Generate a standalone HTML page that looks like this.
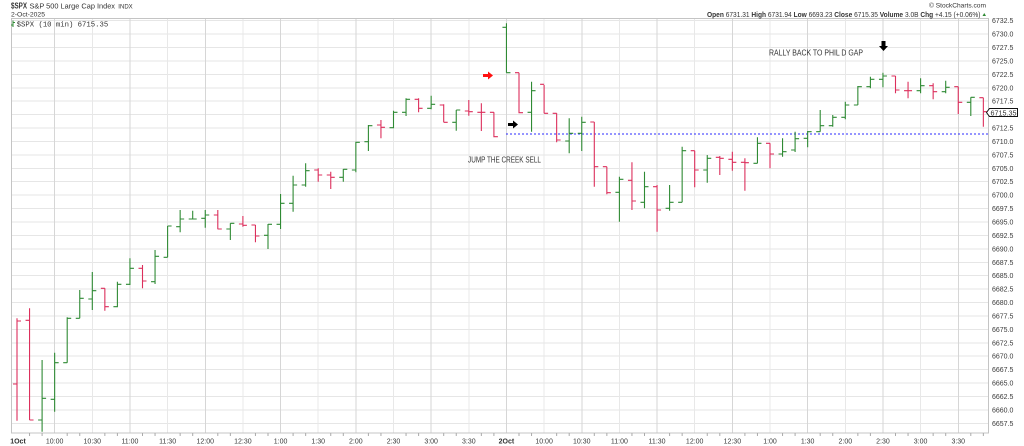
<!DOCTYPE html>
<html>
<head>
<meta charset="utf-8">
<style>
html,body{margin:0;padding:0;background:#fff;}
body{width:1024px;height:446px;overflow:hidden;}
svg{display:block;}
text{font-family:"Liberation Sans",Arial,sans-serif;fill:#333;}
.ax{font-size:7px;fill:#3a3a3a;}
.mono{font-family:"Liberation Mono",monospace;}
</style>
</head>
<body>
<svg width="1024" height="446" viewBox="0 0 1024 446" xmlns="http://www.w3.org/2000/svg">
<rect x="0" y="0" width="1024" height="446" fill="#fff"/>

<!-- horizontal grid -->
<g stroke="#e6e6e6" stroke-width="1" shape-rendering="crispEdges">
<line x1="11" x2="989" y1="20.7" y2="20.7"/>
<line x1="11" x2="989" y1="34.12" y2="34.12"/>
<line x1="11" x2="989" y1="47.54" y2="47.54"/>
<line x1="11" x2="989" y1="60.96" y2="60.96"/>
<line x1="11" x2="989" y1="74.38" y2="74.38"/>
<line x1="11" x2="989" y1="87.8" y2="87.8"/>
<line x1="11" x2="989" y1="101.22" y2="101.22"/>
<line x1="11" x2="989" y1="114.64" y2="114.64"/>
<line x1="11" x2="989" y1="128.06" y2="128.06"/>
<line x1="11" x2="989" y1="141.48" y2="141.48"/>
<line x1="11" x2="989" y1="154.9" y2="154.9"/>
<line x1="11" x2="989" y1="168.32" y2="168.32"/>
<line x1="11" x2="989" y1="181.74" y2="181.74"/>
<line x1="11" x2="989" y1="195.16" y2="195.16"/>
<line x1="11" x2="989" y1="208.58" y2="208.58"/>
<line x1="11" x2="989" y1="222" y2="222"/>
<line x1="11" x2="989" y1="235.42" y2="235.42"/>
<line x1="11" x2="989" y1="248.84" y2="248.84"/>
<line x1="11" x2="989" y1="262.26" y2="262.26"/>
<line x1="11" x2="989" y1="275.68" y2="275.68"/>
<line x1="11" x2="989" y1="289.1" y2="289.1"/>
<line x1="11" x2="989" y1="302.52" y2="302.52"/>
<line x1="11" x2="989" y1="315.94" y2="315.94"/>
<line x1="11" x2="989" y1="329.36" y2="329.36"/>
<line x1="11" x2="989" y1="342.78" y2="342.78"/>
<line x1="11" x2="989" y1="356.2" y2="356.2"/>
<line x1="11" x2="989" y1="369.62" y2="369.62"/>
<line x1="11" x2="989" y1="383.04" y2="383.04"/>
<line x1="11" x2="989" y1="396.46" y2="396.46"/>
<line x1="11" x2="989" y1="409.88" y2="409.88"/>
<line x1="11" x2="989" y1="423.3" y2="423.3"/>
</g>

<!-- vertical grid: half-hour (light) -->
<g stroke="#e8e8e8" stroke-width="1" shape-rendering="crispEdges">
<line x1="92.3" x2="92.3" y1="18" y2="433"/>
<line x1="167.6" x2="167.6" y1="18" y2="433"/>
<line x1="242.9" x2="242.9" y1="18" y2="433"/>
<line x1="318.2" x2="318.2" y1="18" y2="433"/>
<line x1="393.5" x2="393.5" y1="18" y2="433"/>
<line x1="468.8" x2="468.8" y1="18" y2="433"/>
<line x1="544.1" x2="544.1" y1="18" y2="433"/>
<line x1="619.4" x2="619.4" y1="18" y2="433"/>
<line x1="694.7" x2="694.7" y1="18" y2="433"/>
<line x1="770" x2="770" y1="18" y2="433"/>
<line x1="845.3" x2="845.3" y1="18" y2="433"/>
<line x1="920.6" x2="920.6" y1="18" y2="433"/>
</g>
<!-- vertical grid: hour (darker) -->
<g stroke="#d6d6d6" stroke-width="1" shape-rendering="crispEdges">
<line x1="54.65" x2="54.65" y1="18" y2="433"/>
<line x1="129.95" x2="129.95" y1="18" y2="433"/>
<line x1="205.25" x2="205.25" y1="18" y2="433"/>
<line x1="280.55" x2="280.55" y1="18" y2="433"/>
<line x1="355.85" x2="355.85" y1="18" y2="433"/>
<line x1="431.15" x2="431.15" y1="18" y2="433"/>
<line x1="506.45" x2="506.45" y1="18" y2="433"/>
<line x1="581.75" x2="581.75" y1="18" y2="433"/>
<line x1="657.05" x2="657.05" y1="18" y2="433"/>
<line x1="732.35" x2="732.35" y1="18" y2="433"/>
<line x1="807.65" x2="807.65" y1="18" y2="433"/>
<line x1="882.95" x2="882.95" y1="18" y2="433"/>
<line x1="958.25" x2="958.25" y1="18" y2="433"/>
</g>

<!-- plot border -->
<rect x="11.5" y="18.5" width="977" height="414.5" fill="none" stroke="#c4c4c4" stroke-width="1" shape-rendering="crispEdges"/>

<!-- bottom minor ticks -->
<path stroke="#aaa" stroke-width="1" fill="none" d="M29.55 433V436M42.1 433V436M67.2 433V436M79.75 433V436M104.85 433V436M117.4 433V436M142.5 433V436M155.05 433V436M180.15 433V436M192.7 433V436M217.8 433V436M230.35 433V436M255.45 433V436M268 433V436M293.1 433V436M305.65 433V436M330.75 433V436M343.3 433V436M368.4 433V436M380.95 433V436M406.05 433V436M418.6 433V436M443.7 433V436M456.25 433V436M481.35 433V436M493.9 433V436M519 433V436M531.55 433V436M556.65 433V436M569.2 433V436M594.3 433V436M606.85 433V436M631.95 433V436M644.5 433V436M669.6 433V436M682.15 433V436M707.25 433V436M719.8 433V436M744.9 433V436M757.45 433V436M782.55 433V436M795.1 433V436M820.2 433V436M832.75 433V436M857.85 433V436M870.4 433V436M895.5 433V436M908.05 433V436M933.15 433V436M945.7 433V436M970.8 433V436M983.35 433V436"/>

<!-- blue dotted reference line -->
<line x1="506" x2="989" y1="134" y2="134" stroke="#2b2bff" stroke-width="1" stroke-dasharray="2,2" shape-rendering="crispEdges"/>

<!-- red bars -->
<path fill="none" stroke="#dc2f5c" stroke-width="1.1" d="
M17 318.3V420.7M13 384H17M17 321H21
M29.55 308.3V420M25.55 320.3H29.55M29.55 420H33.55
M104.85 288.3V310.7M100.85 288.3H104.85M104.85 306.7H108.85
M142.5 265V288.3M138.5 268.3H142.5M142.5 281H146.5
M217.8 210V229.3M213.8 215H217.8M217.8 229H221.8
M242.9 216V226.7M238.9 224H242.9M242.9 225.3H246.9
M255.45 225V242.3M251.45 225H255.45M255.45 236H259.45
M318.2 168.3V181.7M314.2 170H318.2M318.2 175H322.2
M330.75 171.7V189M326.75 175H330.75M330.75 177.3H334.75
M380.95 120V138.3M376.95 125H380.95M380.95 127.3H384.95
M418.6 98.3V112.3M414.6 99.3H418.6M418.6 108.3H422.6
M443.7 104.3V122.3M439.7 105H443.7M443.7 122.3H447.7
M468.8 100V115.7M464.8 111H468.8M468.8 111.7H472.8
M481.35 103.3V131M477.35 112.3H481.35M481.35 112.3H485.35
M493.9 112.3V137.3M489.9 112.3H493.9M493.9 136.7H497.9
M519 72.7V113.3M515 72.7H519M519 112.7H523
M544.1 85V113.3M540.1 84.3H544.1M544.1 113.3H548.1
M556.65 113.3V142.3M552.65 113.3H556.65M556.65 140H560.65
M594.3 122V186.7M590.3 122H594.3M594.3 166.7H598.3
M606.85 166.7V194.3M602.85 166.7H606.85M606.85 192.7H610.85
M631.95 162.3V210M627.95 180.3H631.95M631.95 201H635.95
M657.05 185V231.7M653.05 186.7H657.05M657.05 210H661.05
M694.7 150.7V187.3M690.7 150.7H694.7M694.7 170H698.7
M719.8 156V175M715.8 157.3H719.8M719.8 158.3H723.8
M732.35 151.7V170.7M728.35 159.3H732.35M732.35 162.3H736.35
M744.9 158.3V190.7M740.9 162.3H744.9M744.9 162.7H748.9
M770 143.3V168.3M766 143.3H770M770 154H774
M895.5 76V93.3M891.5 76H895.5M895.5 90H899.5
M908.05 81.7V98.3M904.05 90.7H908.05M908.05 90.7H912.05
M933.15 83.3V99.3M929.15 85.7H933.15M933.15 91.7H937.15
M958.25 86.7V114M954.25 86.7H958.25M958.25 102.3H962.25
M983.35 97.7V126.7M979.35 97.7H983.35M983.35 111.7H987.35"/>

<!-- green bars -->
<path fill="none" stroke="#2f8a34" stroke-width="1.1" d="
M42.1 360V431.7M38.1 420H42.1M42.1 398.3H46.1
M54.65 352.7V411.7M50.65 399.3H54.65M54.65 362.7H58.65
M67.2 317.3V362.7M63.2 362.7H67.2M67.2 318.3H71.2
M79.75 290V318.3M75.75 318.3H79.75M79.75 298.3H83.75
M92.3 272V310M88.3 299H92.3M92.3 290.7H96.3
M117.4 281.7V307.3M113.4 306.7H117.4M117.4 284.3H121.4
M129.95 258.3V285M125.95 284.3H129.95M129.95 268.3H133.95
M155.05 250V284M151.05 281.7H155.05M155.05 256.3H159.05
M167.6 226V257.3M163.6 257.3H167.6M167.6 226H171.6
M180.15 210V232.3M176.15 226.7H180.15M180.15 219H184.15
M192.7 210.7V219.3M188.7 219H192.7M192.7 219H196.7
M205.25 210V227.7M201.25 218.3H205.25M205.25 215H209.25
M230.35 223.3V240M226.35 229H230.35M230.35 223.3H234.35
M268 224V249M264 235.3H268M268 224.3H272
M280.55 194V229M276.55 224.3H280.55M280.55 203.3H284.55
M293.1 175.7V211.7M289.1 203.3H293.1M293.1 185H297.1
M305.65 163.3V186.7M301.65 185H305.65M305.65 170.7H309.65
M343.3 169V181.7M339.3 177.3H343.3M343.3 169.3H347.3
M355.85 141.7V172.3M351.85 170H355.85M355.85 142.3H359.85
M368.4 125V151M364.4 141.7H368.4M368.4 125.7H372.4
M393.5 110.7V128.3M389.5 127.7H393.5M393.5 112.3H397.5
M406.05 98.3V116M402.05 112.3H406.05M406.05 99.3H410.05
M431.15 95.7V109.3M427.15 108.3H431.15M431.15 104.3H435.15
M456.25 110V130.7M452.25 122.3H456.25M456.25 110H460.25
M506.45 23.3V72.7M502.45 27.3H506.45M506.45 72.7H510.45
M531.55 81.7V131.7M527.55 112.3H531.55M531.55 90.7H535.55
M569.2 118.3V153.3M565.2 141H569.2M569.2 133.3H573.2
M581.75 116.7V151M577.75 133.3H581.75M581.75 122.3H585.75
M619.4 176.7V221.7M615.4 192.3H619.4M619.4 179.3H623.4
M644.5 171.7V208.3M640.5 202.3H644.5M644.5 186.7H648.5
M669.6 185V210.7M665.6 208.3H669.6M669.6 202.3H673.6
M682.15 146.7V202.3M678.15 202.3H682.15M682.15 150.7H686.15
M707.25 155V182.7M703.25 170H707.25M707.25 158.3H711.25
M757.45 137.3V163.3M753.45 163.3H757.45M757.45 143.3H761.45
M782.55 138.3V156.7M778.55 154H782.55M782.55 151.7H786.55
M795.1 131.7V152M791.1 150H795.1M795.1 138.7H799.1
M807.65 131V147.3M803.65 138.3H807.65M807.65 131.7H811.65
M820.2 110V131.7M816.2 131.7H820.2M820.2 125.7H824.2
M832.75 115V126.7M828.75 125.7H832.75M832.75 117.3H836.75
M845.3 101.7V119.3M841.3 117.3H845.3M845.3 105H849.3
M857.85 86V105M853.85 105H857.85M857.85 86.7H861.85
M870.4 76.7V88.3M866.4 86.7H870.4M870.4 79.3H874.4
M882.95 72.7V87.3M878.95 79.3H882.95M882.95 76H886.95
M920.6 78.3V93.3M916.6 90.7H920.6M920.6 85.7H924.6
M945.7 80.7V93.3M941.7 91.7H945.7M945.7 87.3H949.7
M970.8 97.3V116M966.8 102.3H970.8M970.8 97.3H974.8"/>

<!-- annotations -->
<polygon points="483,74 488,74 488,71.5 493,75.5 488,79.5 488,77 483,77" fill="#ff1010"/>
<polygon points="508,123 513,123 513,120.5 518,124.5 513,128.5 513,126 508,126" fill="#000"/>
<polygon points="881.5,41 885.5,41 885.5,46 888,46 883.5,51 879,46 881.5,46" fill="#000"/>
<text x="468" y="162.3" font-size="8" textLength="73" lengthAdjust="spacingAndGlyphs" fill="#333">JUMP THE CREEK SELL</text>
<text x="769" y="55.3" font-size="8" textLength="94" lengthAdjust="spacingAndGlyphs" fill="#333">RALLY BACK TO PHIL D GAP</text>

<!-- header left -->
<text x="11" y="8.5" font-size="8" font-weight="bold" textLength="16" lengthAdjust="spacingAndGlyphs" fill="#111">$SPX</text>
<text x="29.5" y="8.5" font-size="7" textLength="85.5" lengthAdjust="spacingAndGlyphs" fill="#222">S&amp;P 500 Large Cap Index</text>
<text x="118.3" y="8.5" font-size="6" textLength="14.4" lengthAdjust="spacingAndGlyphs" fill="#222">INDX</text>
<text x="11" y="16.5" font-size="6.5" textLength="34" lengthAdjust="spacingAndGlyphs" fill="#222">2-Oct-2025</text>

<!-- legend -->
<path d="M13 20.5V27M11 25H13M13 22.5H15" stroke="#2f8a34" stroke-width="1" fill="none"/>
<text x="16.7" y="26.3" class="mono" font-size="7" textLength="91.5" lengthAdjust="spacingAndGlyphs" fill="#222">$SPX (10 min) 6715.35</text>

<!-- header right -->
<text x="929" y="7.5" font-size="6.5" textLength="57" lengthAdjust="spacingAndGlyphs" fill="#666">© StockCharts.com</text>
<text x="707" y="17" font-size="7" textLength="273.5" lengthAdjust="spacingAndGlyphs" fill="#222"><tspan font-weight="bold">Open</tspan> 6731.31 <tspan font-weight="bold">High</tspan> 6731.94 <tspan font-weight="bold">Low</tspan> 6693.23 <tspan font-weight="bold">Close</tspan> 6715.35 <tspan font-weight="bold">Volume</tspan> 3.0B <tspan font-weight="bold">Chg</tspan> +4.15 (+0.06%)</text>
<polygon points="982.5,16 986,16 984.25,13" fill="#2f8a34"/>

<!-- right axis labels -->
<g class="ax" font-size="7">
<text x="992" y="23.2" class="ax">6732.5</text>
<text x="992" y="36.6" class="ax">6730.0</text>
<text x="992" y="50" class="ax">6727.5</text>
<text x="992" y="63.5" class="ax">6725.0</text>
<text x="992" y="76.9" class="ax">6722.5</text>
<text x="992" y="90.3" class="ax">6720.0</text>
<text x="992" y="103.7" class="ax">6717.5</text>
<text x="992" y="130.6" class="ax">6712.5</text>
<text x="992" y="144" class="ax">6710.0</text>
<text x="992" y="157.4" class="ax">6707.5</text>
<text x="992" y="170.8" class="ax">6705.0</text>
<text x="992" y="184.2" class="ax">6702.5</text>
<text x="992" y="197.7" class="ax">6700.0</text>
<text x="992" y="211.1" class="ax">6697.5</text>
<text x="992" y="224.5" class="ax">6695.0</text>
<text x="992" y="237.9" class="ax">6692.5</text>
<text x="992" y="251.3" class="ax">6690.0</text>
<text x="992" y="264.8" class="ax">6687.5</text>
<text x="992" y="278.2" class="ax">6685.0</text>
<text x="992" y="291.6" class="ax">6682.5</text>
<text x="992" y="305" class="ax">6680.0</text>
<text x="992" y="318.4" class="ax">6677.5</text>
<text x="992" y="331.9" class="ax">6675.0</text>
<text x="992" y="345.3" class="ax">6672.5</text>
<text x="992" y="358.7" class="ax">6670.0</text>
<text x="992" y="372.1" class="ax">6667.5</text>
<text x="992" y="385.5" class="ax">6665.0</text>
<text x="992" y="399" class="ax">6662.5</text>
<text x="992" y="412.4" class="ax">6660.0</text>
<text x="992" y="425.8" class="ax">6657.5</text>
</g>

<!-- close price marker -->
<polygon points="986.5,112.5 989.5,108.5 1017.5,108.5 1017.5,116.5 989.5,116.5" fill="#fff" stroke="#111" stroke-width="1"/>
<text x="990.5" y="115.4" font-size="7.5" textLength="26" lengthAdjust="spacingAndGlyphs" fill="#111">6715.35</text>

<!-- bottom axis labels -->
<g font-size="7" text-anchor="middle" fill="#3a3a3a">
<text x="18" y="443.3" font-weight="bold" fill="#111">1Oct</text>
<text x="54.65" y="443.3" class="ax">10:00</text>
<text x="92.3" y="443.3" class="ax">10:30</text>
<text x="129.95" y="443.3" class="ax">11:00</text>
<text x="167.6" y="443.3" class="ax">11:30</text>
<text x="205.25" y="443.3" class="ax">12:00</text>
<text x="242.9" y="443.3" class="ax">12:30</text>
<text x="280.55" y="443.3" class="ax">1:00</text>
<text x="318.2" y="443.3" class="ax">1:30</text>
<text x="355.85" y="443.3" class="ax">2:00</text>
<text x="393.5" y="443.3" class="ax">2:30</text>
<text x="431.15" y="443.3" class="ax">3:00</text>
<text x="468.8" y="443.3" class="ax">3:30</text>
<text x="506.45" y="443.3" font-weight="bold" fill="#111">2Oct</text>
<text x="544.1" y="443.3" class="ax">10:00</text>
<text x="581.75" y="443.3" class="ax">10:30</text>
<text x="619.4" y="443.3" class="ax">11:00</text>
<text x="657.05" y="443.3" class="ax">11:30</text>
<text x="694.7" y="443.3" class="ax">12:00</text>
<text x="732.35" y="443.3" class="ax">12:30</text>
<text x="770" y="443.3" class="ax">1:00</text>
<text x="807.65" y="443.3" class="ax">1:30</text>
<text x="845.3" y="443.3" class="ax">2:00</text>
<text x="882.95" y="443.3" class="ax">2:30</text>
<text x="920.6" y="443.3" class="ax">3:00</text>
<text x="958.25" y="443.3" class="ax">3:30</text>
</g>
</svg>
</body>
</html>
